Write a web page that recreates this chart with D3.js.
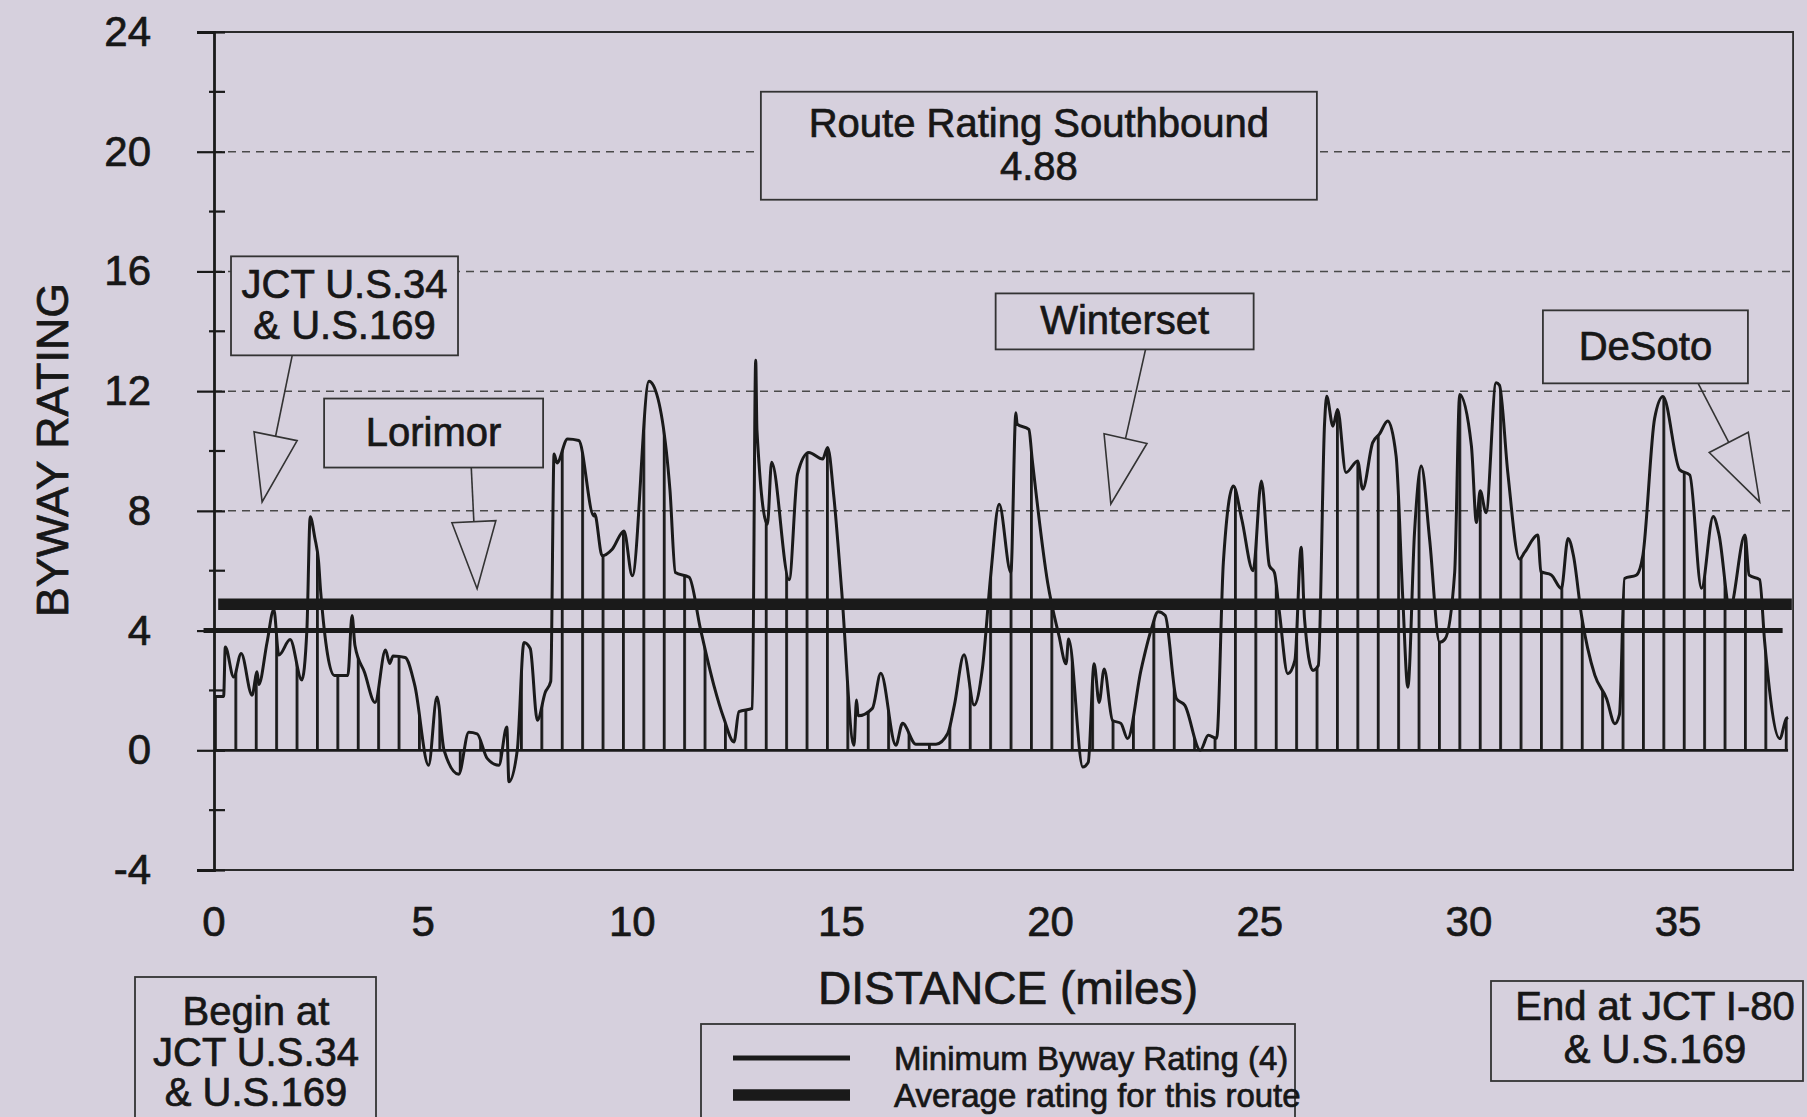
<!DOCTYPE html>
<html>
<head>
<meta charset="utf-8">
<title>Route Rating Southbound</title>
<script src="https://d3js.org/d3.v7.min.js"></script>
<style>
  body { margin: 0; background: #d6d0dd; }
  svg { display: block; font-family: "Liberation Sans", Arial, sans-serif; }
  svg text { stroke: #171717; stroke-width: 0.7; }
  .grid { stroke: #4a4a4a; stroke-width: 1.5; stroke-dasharray: 8 6; }
  .lbl { font-size: 42px; fill: #171717; }
  .box { fill: #d6d0dd; stroke: #333; stroke-width: 1.8; }
  .box-text { font-size: 40px; fill: #171717; text-anchor: middle; dominant-baseline: central; }
  .arrow { fill: #d6d0dd; stroke: #333; stroke-width: 1.6; }
</style>
</head>
<body>
<div id="chart"></div>
<script>

// distance along the route (miles) and byway rating
var distance = [
  0.00, 0.23, 0.27, 0.47, 0.65, 0.91, 1.03, 1.07, 1.27, 1.43, 1.55, 1.82, 2.10, 2.22, 2.30, 2.41,
  2.50, 2.55, 2.88, 3.20, 3.30, 3.37, 3.60, 3.85, 4.10, 4.20, 4.28, 4.57, 4.80, 5.13, 5.33, 5.50,
  5.85, 6.09, 6.29, 6.53, 6.81, 7.00, 7.05, 7.25, 7.41, 7.56, 7.73, 7.92, 8.05, 8.13, 8.20, 8.45,
  8.72, 9.08, 9.10, 9.28, 9.52, 9.80, 10.00, 10.40, 10.50, 10.90, 11.03, 11.36, 11.63, 11.95, 12.19, 12.43,
  12.55, 12.87, 12.95, 12.98, 13.23, 13.33, 13.75, 13.95, 14.22, 14.55, 14.67, 14.82, 15.00, 15.30, 15.36, 15.40,
  15.74, 15.94, 16.30, 16.46, 16.78, 17.26, 17.54, 17.70, 17.93, 18.17, 18.37, 18.57, 18.77, 19.05, 19.17, 19.20,
  19.48, 19.56, 19.93, 20.20, 20.37, 20.43, 20.77, 20.90, 21.04, 21.16, 21.28, 21.48, 21.68, 21.84, 22.16, 22.41,
  22.57, 22.74, 23.01, 23.21, 23.58, 23.77, 23.97, 24.13, 24.37, 24.57, 24.84, 25.04, 25.23, 25.35, 25.47, 25.67,
  25.84, 25.99, 26.07, 26.27, 26.40, 26.55, 26.60, 26.75, 26.86, 27.06, 27.34, 27.46, 27.70, 27.86, 28.06, 28.26,
  28.42, 28.54, 28.70, 28.86, 29.06, 29.30, 29.43, 29.66, 29.78, 30.06, 30.18, 30.27, 30.41, 30.65, 30.73, 30.93,
  31.21, 31.33, 31.65, 31.72, 31.97, 32.21, 32.37, 32.50, 32.69, 33.01, 33.29, 33.49, 33.60, 33.72, 34.00, 34.16,
  34.44, 34.64, 35.04, 35.28, 35.56, 35.84, 35.98, 36.24, 36.60, 36.70, 36.95, 37.07, 37.43, 37.59, 37.63
];
var rating = [
  1.8, 1.8, 3.45, 2.45, 3.23, 1.84, 2.62, 2.2, 3.62, 4.7, 3.18, 3.7, 2.35, 4.0, 7.8, 7.1,
  6.3, 5.3, 2.5, 2.5, 4.5, 3.5, 2.6, 1.6, 3.35, 2.9, 3.15, 3.1, 2.17, -0.5, 1.78, 0.0,
  -0.8, 0.6, 0.55, -0.27, -0.5, 0.78, -1.05, 0.0, 3.6, 3.4, 1.0, 1.94, 2.3, 9.9, 9.6, 10.4,
  10.35, 7.83, 7.9, 6.5, 6.72, 7.33, 5.83, 12.33, 12.2, 8.7, 5.94, 5.78, 4.05, 2.17, 1.06, 0.28,
  1.29, 1.4, 13.03, 10.7, 7.55, 9.62, 5.7, 9.23, 9.95, 9.73, 10.12, 8.45, 5.43, 0.17, 1.68, 1.15,
  1.4, 2.57, 0.17, 0.9, 0.2, 0.2, 0.56, 1.51, 3.19, 1.51, 2.74, 5.87, 8.22, 5.94, 11.28, 10.9,
  10.72, 9.72, 5.6, 3.83, 2.89, 3.72, -0.56, -0.4, 2.89, 1.6, 2.72, 1.0, 0.9, 0.39, 2.67, 4.05,
  4.63, 4.5, 1.72, 1.5, 0.0, 0.5, 0.4, 6.28, 8.83, 7.72, 6.0, 9.0, 6.17, 5.94, 4.61, 2.56,
  3.0, 6.78, 4.4, 2.67, 2.83, 10.94, 11.83, 10.83, 11.39, 9.28, 9.67, 8.72, 10.28, 10.56, 11.0, 9.83,
  5.06, 2.11, 7.28, 9.5, 7.06, 3.61, 3.72, 5.94, 11.89, 10.17, 7.61, 8.67, 7.94, 12.28, 12.2, 9.28,
  6.39, 6.61, 7.19, 5.97, 5.86, 5.41, 7.08, 6.5, 4.52, 2.51, 1.73, 0.89, 1.2, 5.74, 5.85, 6.52,
  11.09, 11.82, 9.37, 9.2, 5.41, 7.81, 7.2, 4.74, 7.19, 5.85, 5.7, 3.63, 0.39, 1.06, 1.1
];

var xTicks = [0, 5, 10, 15, 20, 25, 30, 35];
var yTicks = [-4, 0, 4, 8, 12, 16, 20, 24];
var yMinorTicks = [-2, 2, 6, 10, 14, 18, 22];
var gridValues = [8, 12, 16, 20];
var minimumRating = 4;
var averageRating = 4.88;

// place names: box centre and arrow tip in chart units (miles, rating)
var places = [
  {lines: ["JCT U.S.34", "& U.S.169"], at: [3.12, 14.85], w: 227, h: 99, from: 1.87, to: [1.15, 8.3]},
  {lines: ["Lorimor"], at: [5.25, 10.6], w: 219, h: 69, from: 6.15, to: [6.29, 5.4]},
  {lines: ["Winterset"], at: [21.77, 14.33], w: 258, h: 56, from: 22.27, to: [21.44, 8.23]},
  {lines: ["DeSoto"], at: [34.22, 13.48], w: 205, h: 73, from: 35.48, to: [36.95, 8.3]}
];

var width = 1807,
  height = 1117,
  bg = "#d6d0dd",
  ink = "#1a1a1a";

var x = d3.scaleLinear().domain([0, 37.75]).range([214, 214 + 41.83 * 37.75]);
var y = d3.scaleLinear().domain([-4, 24]).range([870, 32]);

var svg = d3.select("#chart")
  .append("svg")
    .attr("width", width)
    .attr("height", height);

svg.append("rect").attr("width", width).attr("height", height).attr("fill", bg);

var points = distance.map((d, i) => [d, rating[i]]);
var dataEnd = d3.max(distance);

// vertical hatching under the curve
svg.append("defs").append("pattern")
    .attr("id", "hatch")
    .attr("patternUnits", "userSpaceOnUse")
    .attr("x", x(0)).attr("y", 0)
    .attr("width", 20.4).attr("height", height)
  .append("rect")
    .attr("width", 2.8).attr("height", height)
    .attr("fill", ink);

// dashed grid
svg.append("g")
  .selectAll("line")
  .data(gridValues)
  .enter().append("line")
    .attr("class", "grid")
    .attr("x1", x(0)).attr("x2", x.range()[1])
    .attr("y1", (d) => y(d)).attr("y2", (d) => y(d));

// named boxes (drawn over the grid)
function drawBox(g, cx, cy, w, h, lines, size, gap) {
  g.append("rect").attr("class", "box")
    .attr("x", cx - w / 2).attr("y", cy - h / 2)
    .attr("width", w).attr("height", h);
  lines.forEach((t, i) => {
    g.append("text").attr("class", "box-text")
      .attr("x", cx)
      .attr("y", cy + (i - (lines.length - 1) / 2) * gap - 1)
      .style("font-size", size + "px")
      .text(t);
  });
}

var boxes = svg.append("g");
drawBox(boxes, x(19.72), y(20.2), 556, 108,
  ["Route Rating Southbound", d3.format(".2f")(averageRating)], 40, 43);
places.forEach((p) => drawBox(boxes, x(p.at[0]), y(p.at[1]), p.w, p.h, p.lines, 40, 41));

// rating curve
var curve = d3.curveMonotoneX;

svg.append("path")
  .datum(points)
  .attr("fill", "url(#hatch)")
  .attr("d", d3.area().curve(curve)
    .x((d) => x(d[0])).y0(y(0)).y1((d) => y(d[1])));

svg.append("path")
  .datum(points)
  .attr("fill", "none")
  .attr("stroke", ink)
  .attr("stroke-width", 3)
  .attr("stroke-linejoin", "round")
  .attr("d", d3.line().curve(curve).x((d) => x(d[0])).y((d) => y(d[1])));

// zero baseline
svg.append("line")
  .attr("x1", x(0)).attr("x2", x(dataEnd))
  .attr("y1", y(0)).attr("y2", y(0))
  .attr("stroke", ink).attr("stroke-width", 2.8);

// minimum and average lines
svg.append("line")
  .attr("x1", x(-0.25)).attr("x2", x(37.5))
  .attr("y1", y(minimumRating)).attr("y2", y(minimumRating))
  .attr("stroke", ink).attr("stroke-width", 5);

svg.append("line")
  .attr("x1", x(0.1)).attr("x2", x(37.72))
  .attr("y1", y(averageRating)).attr("y2", y(averageRating))
  .attr("stroke", ink).attr("stroke-width", 11.5);

// frame
var x0 = x(0), x1 = x.range()[1];
svg.append("path")
  .attr("d", `M${x0},${y(24)}H${x1}V${y(-4)}H${x0}`)
  .attr("fill", "none").attr("stroke", "#2a2a2a").attr("stroke-width", 1.8);

// y axis: ticks cross the axis line
var yAxis = svg.append("g")
  .attr("transform", `translate(${x0},0)`)
  .call(d3.axisLeft(y).tickValues(yTicks).tickSize(17).tickPadding(46)
    .tickFormat((d) => String(d)));
yAxis.select(".domain").attr("stroke", ink).attr("stroke-width", 2.8);
yAxis.selectAll(".tick line").attr("stroke", ink).attr("stroke-width", 2.2)
  .attr("x2", -17).attr("x1", 11);
yAxis.selectAll(".tick text").attr("class", "lbl").attr("fill", "#171717")
  .style("font-size", "42px").style("font-family", "inherit");

svg.append("g")
  .selectAll("line")
  .data(yMinorTicks)
  .enter().append("line")
    .attr("x1", x0 - 5).attr("x2", x0 + 11)
    .attr("y1", (d) => y(d)).attr("y2", (d) => y(d))
    .attr("stroke", ink).attr("stroke-width", 2.2);

// x tick labels (no tick marks in the original)
svg.append("g")
  .selectAll("text")
  .data(xTicks)
  .enter().append("text")
    .attr("class", "lbl")
    .attr("x", (d) => x(d))
    .attr("y", 921)
    .attr("text-anchor", "middle")
    .attr("dominant-baseline", "central")
    .text((d) => d);

// axis titles
svg.append("text")
  .attr("transform", "translate(52,450) rotate(-90)")
  .attr("text-anchor", "middle")
  .attr("dominant-baseline", "central")
  .attr("textLength", 334)
  .attr("lengthAdjust", "spacingAndGlyphs")
  .style("font-size", "44px").attr("fill", "#171717")
  .text("BYWAY RATING");

svg.append("text")
  .attr("x", 1008).attr("y", 988)
  .attr("text-anchor", "middle")
  .attr("dominant-baseline", "central")
  .style("font-size", "46px").attr("fill", "#171717")
  .text("DISTANCE (miles)");

// arrows from the place boxes
places.forEach((p) => {
  var sx = x(p.from), sy = y(p.at[1]) + p.h / 2;
  var tx = x(p.to[0]), ty = y(p.to[1]);
  var len = Math.hypot(tx - sx, ty - sy);
  var ux = (tx - sx) / len, uy = (ty - sy) / len;
  var bx = tx - ux * 67, by = ty - uy * 67;
  var nx = -uy * 22, ny = ux * 22;
  svg.append("line").attr("class", "arrow")
    .attr("x1", sx).attr("y1", sy).attr("x2", bx).attr("y2", by);
  svg.append("path").attr("class", "arrow")
    .attr("d", `M${bx + nx},${by + ny}L${tx},${ty}L${bx - nx},${by - ny}Z`);
});

// boxes under the chart
var foot = svg.append("g");
foot.append("rect").attr("class", "box").attr("x", 135).attr("y", 977).attr("width", 241).attr("height", 200);
["Begin at", "JCT U.S.34", "& U.S.169"].forEach((t, i) => {
  foot.append("text").attr("class", "box-text").attr("x", 256).attr("y", 1011 + i * 40.5).text(t);
});

foot.append("rect").attr("class", "box").attr("x", 1491).attr("y", 981).attr("width", 312).attr("height", 100);
["End at JCT I-80", "& U.S.169"].forEach((t, i) => {
  foot.append("text").attr("class", "box-text").attr("x", 1655).attr("y", 1006 + i * 43).text(t);
});

// legend
var legend = svg.append("g");
legend.append("rect").attr("class", "box").attr("x", 701).attr("y", 1024).attr("width", 594).attr("height", 150);
var legendItems = [
  {label: "Minimum Byway Rating (4)", w: 5},
  {label: "Average rating for this route", w: 11.5}
];
legendItems.forEach((d, i) => {
  var ly = 1058 + i * 37;
  legend.append("line").attr("x1", 733).attr("x2", 850).attr("y1", ly).attr("y2", ly)
    .attr("stroke", ink).attr("stroke-width", d.w);
  legend.append("text").attr("x", 894).attr("y", ly)
    .attr("dominant-baseline", "central")
    .style("font-size", "33px").attr("fill", "#171717")
    .text(d.label);
});

</script>
</body>
</html>
